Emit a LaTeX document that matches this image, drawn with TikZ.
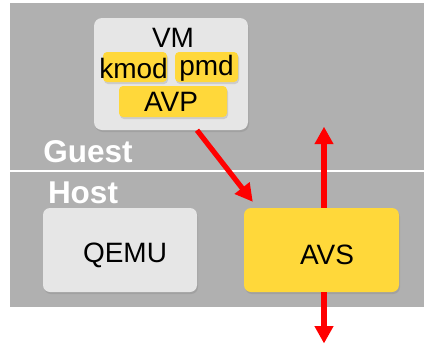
\documentclass[tikz,border=0pt]{standalone}
\usepackage{fontspec}
\setmainfont{Liberation Sans}
\usetikzlibrary{arrows.meta,shadows}
\definecolor{bggray}{RGB}{176,176,176}
\definecolor{boxgray}{RGB}{230,230,230}
\definecolor{boxyellow}{RGB}{255,216,58}
\definecolor{arrowred}{RGB}{255,0,0}
\tikzset{
  graybox/.style={draw=none, fill=boxgray, rounded corners=8pt, inner sep=0pt,
    drop shadow={shadow xshift=1pt, shadow yshift=-2pt, opacity=0.3}},
  bigyellow/.style={draw=none, fill=boxyellow, rounded corners=7pt, inner sep=0pt,
    drop shadow={shadow xshift=1pt, shadow yshift=-2pt, opacity=0.3}},
  smallyellow/.style={draw=none, fill=boxyellow, rounded corners=4pt, inner sep=0pt,
    drop shadow={shadow xshift=1pt, shadow yshift=-2pt, opacity=0.25}},
  boxtext/.style={inner sep=0pt, font=\fontsize{28}{30}\selectfont, text=black},
  sidelabel/.style={inner sep=0pt, font=\fontsize{31.5}{34}\selectfont\bfseries, text=white},
  redarrow/.style={draw=arrowred, line width=5.2pt, -{Triangle[length=17.5pt,width=18pt]}}
}
\begin{document}
\begin{tikzpicture}[x=1pt,y=-1pt]
\useasboundingbox (0,0) rectangle (424,346);
\fill[bggray] (9.5,3.3) rectangle (424,307);
\draw[white, line width=2pt] (9.5,171) -- (424,171);

% VM
\node[graybox, minimum width=154pt, minimum height=112pt] (vm) at (171,74) {};
\node[boxtext] (vmlabel) at (173,38) {VM};
\node[smallyellow, minimum width=64pt, minimum height=30pt] (kmodbox) at (135,67) {};
\node[smallyellow, minimum width=63pt, minimum height=30pt] (pmdbox) at (206.5,67) {};
\node[smallyellow, minimum width=108pt, minimum height=31pt] (avpbox) at (173,101.5) {};
\node[boxtext] (kmod) at (133.5,68) {kmod};
\node[boxtext] (pmd) at (206.5,68) {pmd};
\node[boxtext] (avp) at (171,102) {AVP};

% labels
\node[sidelabel] (guest) at (88,152) {Guest};
\node[sidelabel] (host) at (83,193) {Host};

% host boxes
\node[graybox, rounded corners=7pt, minimum width=154pt, minimum height=84pt] (qemu) at (120,250) {};
\node[boxtext] (qemulabel) at (125,255) {QEMU};
\node[bigyellow, minimum width=155pt, minimum height=84pt] (avs) at (321.5,250) {};
\node[boxtext] (avslabel) at (327,255) {AVS};

% arrows
\coordinate (upend) at (324,126.7);
\coordinate (downend) at (324,343.5);
\draw[redarrow] ([xshift=26pt]vm.south) -- ([xshift=9pt,yshift=6pt]avs.north west);
\draw[redarrow] ([xshift=2.5pt]avs.north) -- (upend);
\draw[redarrow] ([xshift=2.5pt]avs.south) -- (downend);
\end{tikzpicture}
\end{document}
